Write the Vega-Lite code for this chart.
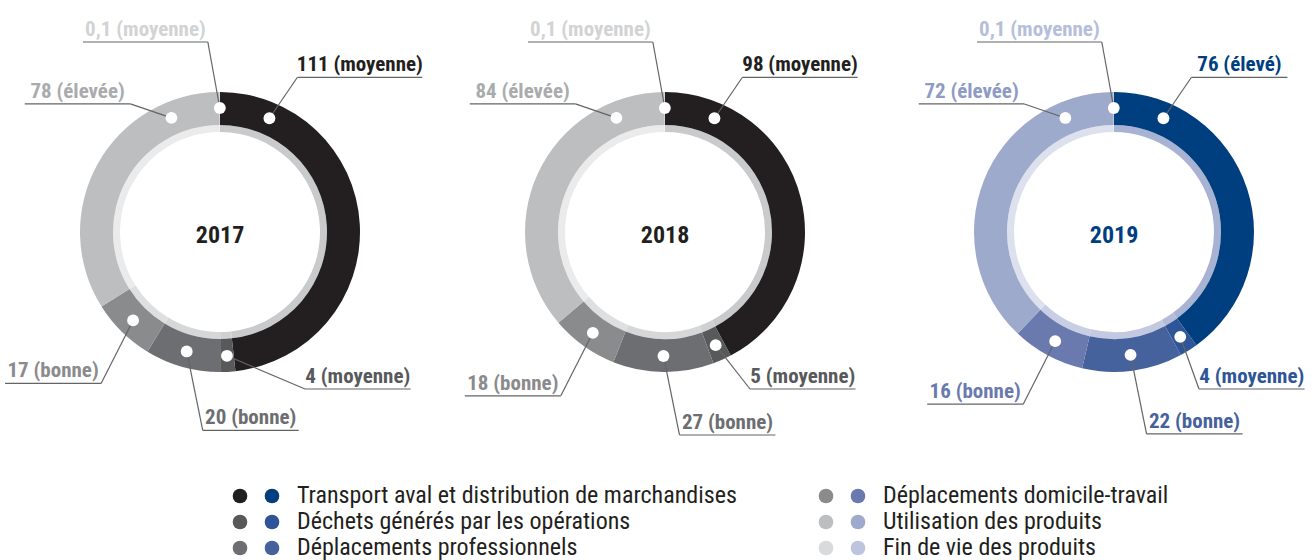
{
  "$schema": "https://vega.github.io/schema/vega-lite/v6.json",
  "width": 1315,
  "height": 560,
  "autosize": {"type": "none"},
  "padding": 0,
  "background": "white",
  "config": {"view": {"stroke": null}},
  "data": {
    "values": [
      {"year": 2017, "category": "Transport aval et distribution de marchandises", "value": 111, "rating": "moyenne"},
      {"year": 2017, "category": "Déchets générés par les opérations", "value": 4, "rating": "moyenne"},
      {"year": 2017, "category": "Déplacements professionnels", "value": 20, "rating": "bonne"},
      {"year": 2017, "category": "Déplacements domicile-travail", "value": 17, "rating": "bonne"},
      {"year": 2017, "category": "Utilisation des produits", "value": 78, "rating": "élevée"},
      {"year": 2017, "category": "Fin de vie des produits", "value": 0.1, "rating": "moyenne"},
      {"year": 2018, "category": "Transport aval et distribution de marchandises", "value": 98, "rating": "moyenne"},
      {"year": 2018, "category": "Déchets générés par les opérations", "value": 5, "rating": "moyenne"},
      {"year": 2018, "category": "Déplacements professionnels", "value": 27, "rating": "bonne"},
      {"year": 2018, "category": "Déplacements domicile-travail", "value": 18, "rating": "bonne"},
      {"year": 2018, "category": "Utilisation des produits", "value": 84, "rating": "élevée"},
      {"year": 2018, "category": "Fin de vie des produits", "value": 0.1, "rating": "moyenne"},
      {"year": 2019, "category": "Transport aval et distribution de marchandises", "value": 76, "rating": "élevé"},
      {"year": 2019, "category": "Déchets générés par les opérations", "value": 4, "rating": "moyenne"},
      {"year": 2019, "category": "Déplacements professionnels", "value": 22, "rating": "bonne"},
      {"year": 2019, "category": "Déplacements domicile-travail", "value": 16, "rating": "bonne"},
      {"year": 2019, "category": "Utilisation des produits", "value": 72, "rating": "élevée"},
      {"year": 2019, "category": "Fin de vie des produits", "value": 0.1, "rating": "moyenne"}
    ]
  },
  "transform": [
    {"calculate": "indexof(['Transport aval et distribution de marchandises','Déchets générés par les opérations','Déplacements professionnels','Déplacements domicile-travail','Utilisation des produits','Fin de vie des produits'], datum.category)", "as": "idx"},
    {"window": [{"op": "sum", "field": "value", "as": "cum"}], "groupby": ["year"], "sort": [{"field": "idx"}], "frame": [null, 0]},
    {"joinaggregate": [{"op": "sum", "field": "value", "as": "total"}], "groupby": ["year"]},
    {"calculate": "datum.cum / datum.total * 2 * PI", "as": "a1"},
    {"calculate": "(datum.cum - datum.value) / datum.total * 2 * PI", "as": "a0"},
    {"calculate": "datum.year == 2017 ? 220 : datum.year == 2018 ? 665 : 1114", "as": "cx"},
    {"calculate": "232", "as": "cy"},
    {"calculate": "datum.idx == 0 ? datum.a0 + 0.41 : datum.idx == 4 ? datum.a1 - 0.40 : (datum.a0 + datum.a1) / 2", "as": "da"},
    {"calculate": "datum.cx + 124 * sin(datum.da)", "as": "dotX"},
    {"calculate": "datum.cy - 124 * cos(datum.da)", "as": "dotY"},
    {"calculate": "datum.idx == 1 ? datum.cx + 85 : datum.dotX + [28, 0, 16, -32, -41, -12][datum.idx]", "as": "elbX"},
    {"calculate": "datum.idx == 1 ? datum.cy + 157 : datum.dotY + [-41, 0, 79, 63, -14, -66][datum.idx]", "as": "elbY"},
    {"calculate": "datum.idx <= 2 ? 1 : -1", "as": "side"},
    {"calculate": "replace(toString(datum.value), '.', ',') + ' (' + datum.rating + ')'", "as": "label"},
    {"calculate": "length(datum.label) * 9.6", "as": "W"},
    {"calculate": "datum.elbX + datum.side * datum.W", "as": "endX"},
    {"calculate": "(datum.elbX + datum.endX) / 2", "as": "midX"},
    {"calculate": "datum.elbY - 6", "as": "textY"},
    {"calculate": "(datum.year == 2019 ? 'b' : 'g') + datum.idx", "as": "ck"},
    {"calculate": "(datum.year == 2019 ? 'bi' : 'gi') + datum.idx", "as": "ci"},
    {"calculate": "(datum.year == 2019 ? 'bl' : 'gl') + datum.idx", "as": "cl"},
    {"calculate": "datum.idx < 3 ? 240 : 826", "as": "legX"},
    {"calculate": "496 + (datum.idx % 3) * 26", "as": "legY"}
  ],
  "layer": [
    {
      "mark": {"type": "arc", "innerRadius": 100, "outerRadius": 107},
      "encoding": {
        "x": {"field": "cx", "type": "quantitative", "scale": {"domain": [0, 1315], "nice": false, "zero": false}, "axis": null},
        "y": {"field": "cy", "type": "quantitative", "scale": {"domain": [0, 560], "nice": false, "zero": false, "reverse": true}, "axis": null},
        "theta": {"field": "a0", "type": "quantitative", "stack": null, "scale": {"domain": [0, 6.283185307179586], "range": [0, 6.283185307179586]}},
        "theta2": {"field": "a1"},
        "color": {"field": "ci", "type": "nominal", "legend": null,
          "scale": {
            "domain": ["g0","g1","g2","g3","g4","g5","gi0","gi1","gi2","gi3","gi4","gi5","gl0","gl1","gl2","gl3","gl4","gl5","b0","b1","b2","b3","b4","b5","bi0","bi1","bi2","bi3","bi4","bi5","bl0","bl1","bl2","bl3","bl4","bl5"],
            "range": ["#231f20","#58595b","#6d6e71","#8a8b8d","#bcbec0","#d9dadb","#c9cacb","#cfd0d1","#d6d7d8","#dedfe0","#ebebec","#f1f1f1","#231f20","#58595b","#6d6e71","#8a8b8d","#a9abad","#d1d3d4","#003f7f","#2e5597","#45629c","#6a7aaf","#9eaacb","#bcc4de","#a8b3d3","#b4bcd9","#c3c9e1","#c8cee4","#dde1ee","#e6e9f3","#003f7f","#2e5597","#45629c","#6a7aaf","#8e9bc4","#b5bedb"]
          }}
      }
    },
    {
      "mark": {"type": "arc", "innerRadius": 107, "outerRadius": 140},
      "encoding": {
        "x": {"field": "cx", "type": "quantitative", "scale": {"domain": [0, 1315], "nice": false, "zero": false}, "axis": null},
        "y": {"field": "cy", "type": "quantitative", "scale": {"domain": [0, 560], "nice": false, "zero": false, "reverse": true}, "axis": null},
        "theta": {"field": "a0", "type": "quantitative", "stack": null, "scale": {"domain": [0, 6.283185307179586], "range": [0, 6.283185307179586]}},
        "theta2": {"field": "a1"},
        "color": {"field": "ck", "type": "nominal", "legend": null}
      }
    },
    {
      "mark": {"type": "rule", "color": "#636466", "strokeWidth": 1.2},
      "encoding": {
        "x": {"field": "dotX", "type": "quantitative", "scale": {"domain": [0, 1315], "nice": false, "zero": false}, "axis": null},
        "y": {"field": "dotY", "type": "quantitative", "scale": {"domain": [0, 560], "nice": false, "zero": false, "reverse": true}, "axis": null},
        "x2": {"field": "elbX"},
        "y2": {"field": "elbY"}
      }
    },
    {
      "mark": {"type": "rule", "color": "#636466", "strokeWidth": 1.2},
      "encoding": {
        "x": {"field": "elbX", "type": "quantitative", "scale": {"domain": [0, 1315], "nice": false, "zero": false}, "axis": null},
        "y": {"field": "elbY", "type": "quantitative", "scale": {"domain": [0, 560], "nice": false, "zero": false, "reverse": true}, "axis": null},
        "x2": {"field": "endX"},
        "y2": {"field": "elbY"}
      }
    },
    {
      "mark": {"type": "circle", "color": "white", "opacity": 1, "size": 140},
      "encoding": {
        "x": {"field": "dotX", "type": "quantitative", "scale": {"domain": [0, 1315], "nice": false, "zero": false}, "axis": null},
        "y": {"field": "dotY", "type": "quantitative", "scale": {"domain": [0, 560], "nice": false, "zero": false, "reverse": true}, "axis": null}
      }
    },
    {
      "mark": {"type": "text", "font": "Roboto Condensed, DejaVu Sans Condensed, sans-serif", "fontWeight": "bold", "fontSize": 21, "align": "center", "baseline": "alphabetic"},
      "encoding": {
        "x": {"field": "midX", "type": "quantitative", "scale": {"domain": [0, 1315], "nice": false, "zero": false}, "axis": null},
        "y": {"field": "textY", "type": "quantitative", "scale": {"domain": [0, 560], "nice": false, "zero": false, "reverse": true}, "axis": null},
        "text": {"field": "label", "type": "nominal"},
        "color": {"field": "cl", "type": "nominal", "legend": null}
      }
    },
    {
      "transform": [{"filter": "datum.idx == 0"}],
      "mark": {"type": "text", "font": "Roboto Condensed, DejaVu Sans Condensed, sans-serif", "fontWeight": "bold", "fontSize": 24, "align": "center", "baseline": "middle", "dy": 4},
      "encoding": {
        "x": {"field": "cx", "type": "quantitative", "scale": {"domain": [0, 1315], "nice": false, "zero": false}, "axis": null},
        "y": {"field": "cy", "type": "quantitative", "scale": {"domain": [0, 560], "nice": false, "zero": false, "reverse": true}, "axis": null},
        "text": {"field": "year", "type": "nominal"},
        "color": {"field": "ck", "type": "nominal", "legend": null}
      }
    },
    {
      "transform": [{"filter": "datum.year == 2017"}],
      "mark": {"type": "circle", "opacity": 1, "size": 215},
      "encoding": {
        "x": {"field": "legX", "type": "quantitative", "scale": {"domain": [0, 1315], "nice": false, "zero": false}, "axis": null},
        "y": {"field": "legY", "type": "quantitative", "scale": {"domain": [0, 560], "nice": false, "zero": false, "reverse": true}, "axis": null},
        "color": {"field": "ck", "type": "nominal", "legend": null}
      }
    },
    {
      "transform": [{"filter": "datum.year == 2019"}, {"calculate": "datum.legX + 32", "as": "legX2"}],
      "mark": {"type": "circle", "opacity": 1, "size": 215},
      "encoding": {
        "x": {"field": "legX2", "type": "quantitative", "scale": {"domain": [0, 1315], "nice": false, "zero": false}, "axis": null},
        "y": {"field": "legY", "type": "quantitative", "scale": {"domain": [0, 560], "nice": false, "zero": false, "reverse": true}, "axis": null},
        "color": {"field": "ck", "type": "nominal", "legend": null}
      }
    },
    {
      "transform": [{"filter": "datum.year == 2017"}, {"calculate": "datum.legX + 57", "as": "legX3"}],
      "mark": {"type": "text", "font": "Roboto Condensed, Liberation Sans, sans-serif", "fontSize": 24, "align": "left", "baseline": "middle", "color": "#231f20"},
      "encoding": {
        "x": {"field": "legX3", "type": "quantitative", "scale": {"domain": [0, 1315], "nice": false, "zero": false}, "axis": null},
        "y": {"field": "legY", "type": "quantitative", "scale": {"domain": [0, 560], "nice": false, "zero": false, "reverse": true}, "axis": null},
        "text": {"field": "category", "type": "nominal"}
      }
    }
  ]
}
